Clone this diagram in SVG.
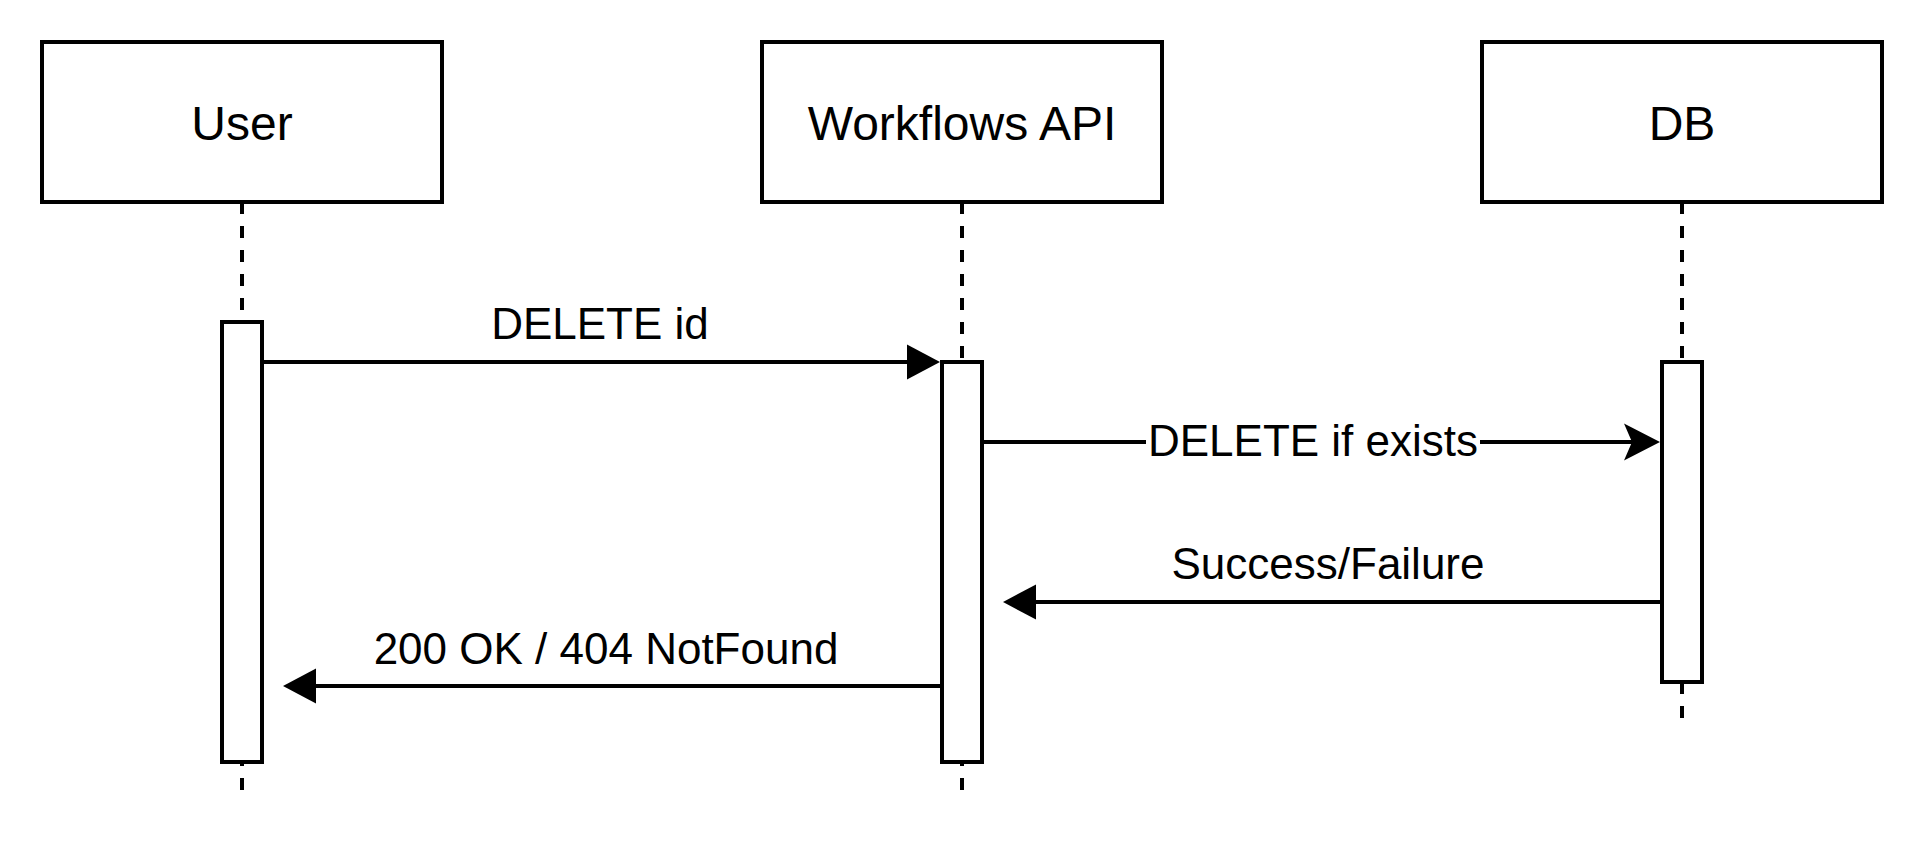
<svg xmlns="http://www.w3.org/2000/svg" width="1924" height="844" viewBox="0 0 1924 844">
  <style>
    .box { fill: #ffffff; stroke: #000000; stroke-width: 4; }
    .act { fill: #ffffff; stroke: #000000; stroke-width: 4; }
    .life { stroke: #000000; stroke-width: 4; stroke-dasharray: 12 12; fill: none; }
    .msg { stroke: #000000; stroke-width: 4; fill: none; }
    .title { font-family: "Liberation Sans", Arial, sans-serif; font-size: 48px; fill: #000000; text-anchor: middle; }
    .label { font-family: "Liberation Sans", Arial, sans-serif; font-size: 44px; fill: #000000; text-anchor: middle; }
  </style>
  <defs>
    <marker id="block" markerUnits="userSpaceOnUse" markerWidth="34" markerHeight="36" refX="0" refY="17.5" orient="auto" overflow="visible">
      <path d="M0,0 L33,17.5 L0,35 Z" fill="#000000"/>
    </marker>
    <marker id="classic" markerUnits="userSpaceOnUse" markerWidth="37" markerHeight="38" refX="8" refY="18.5" orient="auto" overflow="visible">
      <path d="M0,0 L36,18.5 L0,37 L8,18.5 Z" fill="#000000"/>
    </marker>
  </defs>
  <rect width="1924" height="844" fill="#ffffff"/>

  <g id="lifelines">
    <line class="life" x1="242" y1="202" x2="242" y2="792"/>
    <line class="life" x1="962" y1="202" x2="962" y2="792"/>
    <line class="life" x1="1682" y1="202" x2="1682" y2="720"/>
  </g>

  <g id="user">
    <rect class="box" x="42" y="42" width="400" height="160"/>
    <text class="title" x="242" y="139.5">User</text>
  </g>
  <g id="workflows-api">
    <rect class="box" x="762" y="42" width="400" height="160"/>
    <text class="title" x="962" y="139.5">Workflows API</text>
  </g>
  <g id="db">
    <rect class="box" x="1482" y="42" width="400" height="160"/>
    <text class="title" x="1682" y="139.5">DB</text>
  </g>

  <g id="user-activation">
    <rect class="act" x="222" y="322" width="40" height="440"/>
  </g>
  <g id="api-activation">
    <rect class="act" x="942" y="362" width="40" height="400"/>
  </g>
  <g id="db-activation">
    <rect class="act" x="1662" y="362" width="40" height="320"/>
  </g>

  <g id="connectors">
    <line class="msg" x1="262" y1="362" x2="907" y2="362" marker-end="url(#block)"/>
    <text class="label" x="600" y="339">DELETE id</text>

    <line class="msg" x1="982" y1="442" x2="1632" y2="442" marker-end="url(#classic)"/>
    <rect x="1146" y="424" width="334" height="36" fill="#ffffff"/>
    <text class="label" x="1313" y="455.5">DELETE if exists</text>

    <line class="msg" x1="1662" y1="602" x2="1036" y2="602" marker-end="url(#block)"/>
    <text class="label" x="1328" y="579">Success/Failure</text>

    <line class="msg" x1="942" y1="686" x2="316" y2="686" marker-end="url(#block)"/>
    <text class="label" x="606" y="664">200 OK / 404 NotFound</text>
  </g>
</svg>
